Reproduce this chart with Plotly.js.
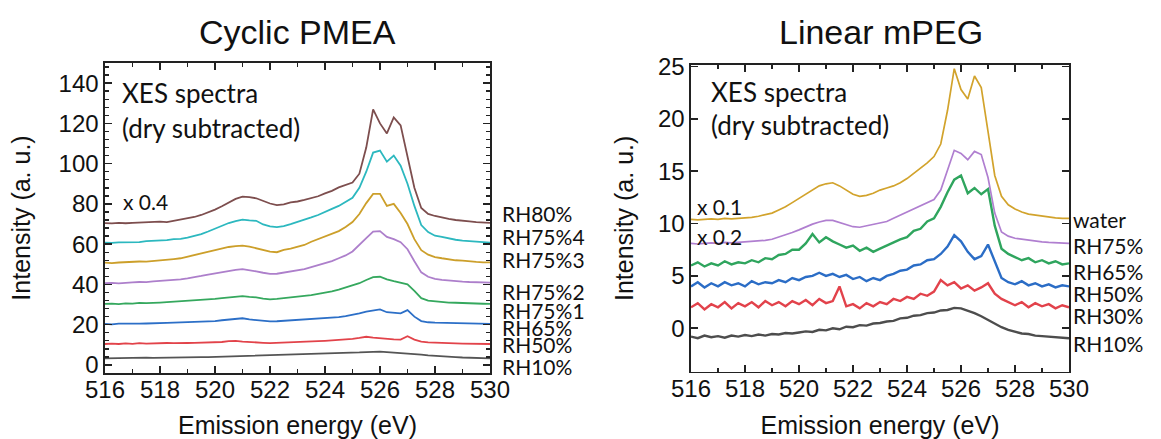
<!DOCTYPE html>
<html><head><meta charset="utf-8">
<script src="https://cdn.plot.ly/plotly-3.0.1.min.js"></script>
<style>html,body{margin:0;padding:0;background:#fff}#g{width:1161px;height:439px}</style>
</head><body><div id="g"></div>
<script>
const energy = [516,516.25,516.5,516.75,517,517.25,517.5,517.75,518,518.25,518.5,518.75,519,519.25,519.5,519.75,520,520.25,520.5,520.75,521,521.25,521.5,521.75,522,522.25,522.5,522.75,523,523.25,523.5,523.75,524,524.25,524.5,524.75,525,525.25,525.5,525.75,526,526.25,526.5,526.75,527,527.25,527.5,527.75,528,528.25,528.5,528.75,529,529.25,529.5,529.75,530];

// Cyclic PMEA
const pmeaRH80 = [70.5,70.3,70.6,70.4,70.6,70.8,70.7,71.0,71.2,71.0,71.6,72.0,72.6,73.5,74.5,75.8,77.2,78.8,80.5,82.5,83.6,83.4,82.8,81.5,80.2,79.4,79.8,80.8,81.2,82.0,82.8,83.8,85.2,86.5,88.2,89.6,90.6,95.0,108,127,120,115,123,119,104,88,78,75,74,73.2,72.6,72.0,71.8,71.3,71.0,70.8,70.6];
const pmeaRH75_4 = [60.8,60.6,60.9,61.0,61.2,61.0,61.5,61.6,61.9,62.0,62.5,62.6,63.2,64.0,65.0,66.3,67.8,69.2,70.5,71.5,72.2,71.8,71.6,69.8,68.8,68.5,69.0,70.0,71.0,72.0,73.3,74.5,75.8,77.5,79.0,80.8,83.0,88.0,96.0,105.5,106.5,101,104,99,90,79,69.5,66,64.2,63.6,62.8,62.2,61.8,61.6,61.2,61.0,60.8];
const pmeaRH75_3 = [50.8,50.6,50.9,51.1,51.0,51.4,51.3,51.6,51.9,52.0,52.6,53.0,53.8,54.4,55.2,56.0,57.0,57.8,58.6,59.0,59.3,58.8,58.0,57.2,56.3,56.0,57.2,57.8,58.8,59.6,61.2,62.5,63.8,65.0,66.5,68.5,71.0,75.0,80.4,85.0,85.0,79.0,80.0,75.5,70.0,62.5,57.0,54.8,53.6,53.0,52.4,52.0,51.8,51.4,51.2,51.0,51.0];
const pmeaRH75_2 = [40.6,40.8,40.5,40.9,41.0,41.2,41.1,41.5,41.7,41.9,42.2,42.5,43.0,43.5,44.2,44.9,45.5,46.2,46.8,47.2,47.6,47.2,46.5,45.8,45.2,45.3,45.8,46.4,47.0,47.6,48.6,49.5,50.5,51.6,53.0,54.4,56.4,59.5,63.0,66.2,66.5,63.6,62.5,61.0,57.5,51.5,46.0,43.8,42.8,42.3,41.9,41.6,41.4,41.2,41.0,40.9,40.9];
const pmeaRH75_1 = [30.3,30.5,30.2,30.6,30.5,30.8,30.7,31.0,31.0,31.2,31.4,31.5,31.8,32.0,32.3,32.5,32.8,33.2,33.6,34.0,34.2,33.8,33.6,33.0,32.6,32.8,33.1,33.5,33.9,34.3,34.7,35.2,35.8,36.5,37.4,38.4,39.4,40.6,42.2,43.6,43.8,42.5,41.6,40.8,40.0,36.8,33.2,32.0,31.6,31.3,31.0,30.9,30.7,30.6,30.5,30.4,30.3];
const pmeaRH65 = [20.4,20.2,20.5,20.4,20.6,20.5,20.6,20.8,20.7,20.9,21.0,21.1,21.2,21.4,21.4,21.7,21.8,22.2,22.5,23.0,23.2,22.6,22.3,21.8,21.6,21.7,21.9,22.1,22.3,22.5,22.7,23.0,23.2,23.5,23.8,24.2,24.8,25.6,26.5,27.2,27.6,26.2,25.8,25.6,27.2,24.0,21.8,21.2,21.0,20.9,20.8,20.6,20.6,20.5,20.5,20.4,20.4];
const pmeaRH50 = [10.4,10.6,10.4,10.7,10.5,10.8,10.6,10.8,10.7,10.9,10.8,11.0,10.9,11.0,11.1,11.2,11.2,11.4,11.8,12.0,11.6,11.5,11.2,11.0,10.8,10.9,11.1,11.2,11.4,11.5,11.6,11.8,12.0,12.2,12.4,12.7,13.0,13.4,14.0,13.6,13.2,12.9,12.7,12.6,14.3,12.6,11.6,11.2,11.0,10.9,10.8,10.7,10.6,10.6,10.5,10.4,10.4];
const pmeaRH10 = [3.3,3.4,3.3,3.5,3.4,3.5,3.6,3.5,3.6,3.7,3.6,3.8,3.7,3.8,3.9,3.9,4.0,4.1,4.2,4.3,4.3,4.4,4.4,4.5,4.6,4.7,4.8,4.9,5.0,5.1,5.2,5.3,5.4,5.5,5.7,5.8,6.0,6.2,6.4,6.6,6.6,6.4,6.2,6.0,5.8,5.5,5.1,4.8,4.5,4.3,4.1,3.9,3.7,3.6,3.5,3.4,3.3];

// Linear mPEG
const pegWater = [10.4,10.35,10.4,10.45,10.4,10.5,10.45,10.5,10.5,10.6,10.7,10.85,11.0,11.3,11.6,12.0,12.4,12.8,13.2,13.6,13.8,13.9,13.6,13.2,12.8,12.6,12.7,12.9,13.2,13.4,13.6,13.9,14.3,14.8,15.3,15.8,16.4,17.6,20.8,24.8,22.8,21.9,24.1,23.0,18.8,14.6,12.6,11.8,11.4,11.1,10.9,10.8,10.7,10.6,10.55,10.5,10.5];
const pegRH75 = [8.1,8.05,8.1,8.15,8.1,8.2,8.15,8.2,8.2,8.25,8.3,8.4,8.5,8.7,8.9,9.15,9.4,9.7,9.95,10.15,10.3,10.3,10.1,9.85,9.7,9.65,9.8,9.95,10.05,10.2,10.5,10.8,11.1,11.4,11.7,12.0,12.3,13.2,15.2,17.0,16.7,16.1,16.9,16.6,14.4,11.0,9.2,8.8,8.6,8.5,8.4,8.3,8.25,8.2,8.15,8.1,8.1];
const pegRH65 = [6.0,6.3,5.9,6.2,6.0,6.4,6.1,6.3,6.2,6.5,6.3,6.7,6.6,7.0,7.1,7.5,7.5,8.1,9.0,8.2,8.7,8.3,8.0,7.7,7.9,7.4,7.7,7.3,7.6,7.9,8.2,8.5,8.7,9.3,9.5,10.2,10.5,11.6,13.0,14.2,14.6,12.9,13.4,12.8,13.3,9.8,7.6,7.1,6.8,6.5,6.7,6.3,6.5,6.2,6.4,6.1,6.2];
const pegRH50 = [4.0,4.4,3.9,4.3,4.0,4.4,4.1,4.3,4.0,4.5,4.2,4.4,4.3,4.6,4.4,4.8,4.6,4.9,5.0,5.3,5.0,5.2,4.9,5.1,4.7,4.9,4.5,4.8,4.6,5.0,5.2,5.5,5.6,6.0,6.1,6.5,6.6,7.1,7.8,8.9,8.3,7.3,6.6,6.9,8.0,6.4,4.8,4.4,4.2,4.5,4.1,4.3,4.0,4.2,3.9,4.1,4.0];
const pegRH30 = [2.0,2.4,1.8,2.3,2.0,2.5,1.9,2.4,2.1,2.5,2.0,2.6,2.2,2.5,2.1,2.6,2.3,2.7,2.2,2.8,2.4,2.6,4.0,2.1,2.3,1.9,2.4,2.1,2.5,2.3,2.8,2.6,3.0,2.8,3.3,3.1,3.5,4.6,4.1,4.4,3.8,4.1,3.6,3.9,4.3,3.3,2.8,2.5,2.2,2.5,2.0,2.4,2.1,2.3,1.9,2.2,2.0];
const pegRH10 = [-0.8,-0.95,-0.7,-0.85,-0.75,-0.9,-0.7,-0.8,-0.65,-0.75,-0.6,-0.7,-0.55,-0.6,-0.45,-0.5,-0.4,-0.3,-0.35,-0.15,-0.2,0.0,-0.1,0.15,0.1,0.3,0.25,0.45,0.5,0.65,0.7,0.95,1.0,1.2,1.25,1.45,1.5,1.7,1.75,1.95,1.9,1.7,1.45,1.15,0.8,0.4,0.1,-0.15,-0.35,-0.5,-0.55,-0.7,-0.75,-0.8,-0.85,-0.9,-0.95];

const pmeaLabels = ['RH80%','RH75%4','RH75%3','RH75%2','RH75%1','RH65%','RH50%','RH10%'];
const pegLabels = ['water','RH75%','RH65%','RH50%','RH30%','RH10%'];
const xTickVals = [516,518,520,522,524,526,528,530];

const W = 1161, H = 439;
const px = x => x / W, py = y => 1 - y / H;

const pmeaSeries = [pmeaRH80,pmeaRH75_4,pmeaRH75_3,pmeaRH75_2,pmeaRH75_1,pmeaRH65,pmeaRH50,pmeaRH10];
const pmeaColors = ['#7d4e4e','#2cb8bf','#cc9f2a','#ad7fcb','#35a85e','#2c6fc7','#e2434a','#555555'];
const pegSeries = [pegWater,pegRH75,pegRH65,pegRH50,pegRH30,pegRH10];
const pegColors = ['#d2a32c','#b07fd0','#2fa55e','#2b6dc6','#e2424b','#4d4d4d'];
const pegWidths = [1.7,1.7,2.4,2.4,2.4,2.4];

const traces = [];
pmeaSeries.forEach((s,i)=>traces.push({x:energy,y:s,type:'scatter',mode:'lines',xaxis:'x',yaxis:'y',line:{color:pmeaColors[i],width:1.8},name:pmeaLabels[i],showlegend:false}));
pegSeries.forEach((s,i)=>traces.push({x:energy,y:s,type:'scatter',mode:'lines',xaxis:'x2',yaxis:'y2',line:{color:pegColors[i],width:pegWidths[i]},name:pegLabels[i],showlegend:false}));

const tickFont = {family:'Liberation Sans, Arial, sans-serif',size:24,color:'#111'};
const titleFont = {family:'Liberation Sans, Arial, sans-serif',size:25,color:'#111'};
const axBase = {showline:true,linecolor:'#222',linewidth:1.6,mirror:'ticks',ticks:'inside',tickcolor:'#222',tickwidth:1.6,ticklen:7,showgrid:false,zeroline:false,tickfont:tickFont};

const layout = {
  width:W,height:H,margin:{l:0,r:0,t:0,b:0},paper_bgcolor:'#fff',plot_bgcolor:'#fff',showlegend:false,
  xaxis:Object.assign({},axBase,{domain:[px(105),px(490)],range:[516,530],tickvals:xTickVals,anchor:'y',ticklabelstandoff:-5,
    minor:{dtick:1,ticks:'inside',ticklen:4,tickcolor:'#222',tickwidth:1.4},
    title:{text:'Emission energy (eV)',font:titleFont,standoff:16}}),
  yaxis:Object.assign({},axBase,{domain:[py(373),py(63)],range:[-4,150],dtick:20,anchor:'x',
    minor:{dtick:4,ticks:'inside',ticklen:4,tickcolor:'#222',tickwidth:1.4},
    title:{text:'Intensity (a. u.)',font:titleFont,standoff:21}}),
  xaxis2:Object.assign({},axBase,{domain:[px(691),px(1069)],range:[516,530],tickvals:xTickVals,anchor:'y2',ticklabelstandoff:-5,
    minor:{dtick:1,ticks:'inside',ticklen:4,tickcolor:'#222',tickwidth:1.4},
    title:{text:'Emission energy (eV)',font:titleFont,standoff:16}}),
  yaxis2:Object.assign({},axBase,{domain:[py(371.7),py(65)],range:[-4.15,25.15],dtick:5,anchor:'x2',
    title:{text:'Intensity (a. u.)',font:titleFont,standoff:17}}),
  annotations:[]
};

const annFont = {family:'Lato, Open Sans, sans-serif',size:26,color:'#111'};
const labFont = {family:'Lato, Open Sans, sans-serif',size:21,color:'#111'};
const multFont = {family:'Lato, Open Sans, sans-serif',size:21,color:'#111'};
function ann(text,x,y,font,xanchor){layout.annotations.push({text:text,xref:'paper',yref:'paper',x:px(x),y:py(y),xanchor:xanchor||'left',yanchor:'middle',showarrow:false,font:font});}

ann('Cyclic PMEA',297.5,32,{family:'Liberation Sans, Arial, sans-serif',size:34,color:'#111'},'center');
ann('Linear mPEG',881,32,{family:'Liberation Sans, Arial, sans-serif',size:34,color:'#111'},'center');
ann('XES spectra',120,93,annFont);
ann('(dry subtracted)',120,128,annFont);
ann('x 0.4',121,201,multFont);
ann('XES spectra',709,92,annFont);
ann('(dry subtracted)',709,125,annFont);
ann('x 0.1',695,206,multFont);
ann('x 0.2',695,236,multFont);

const pmeaLabY = [213,236,259,291,310,327,344,366];
pmeaLabels.forEach((t,i)=>ann(t,500,pmeaLabY[i],labFont));
const pegLabY = [219,245,271,293,315,343];
pegLabels.forEach((t,i)=>ann(t,1071,pegLabY[i],labFont));

Plotly.newPlot('g',traces,layout,{staticPlot:true,displayModeBar:false});
</script></body></html>
